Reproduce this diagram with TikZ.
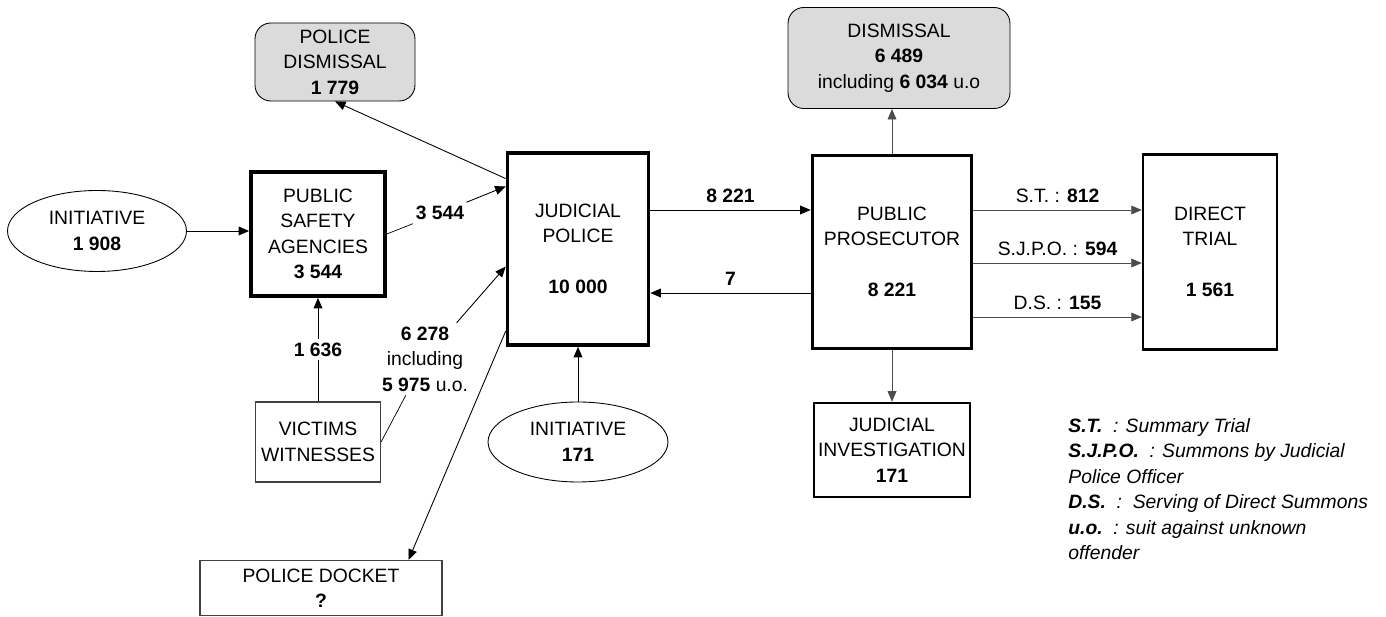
\documentclass[tikz,border=0pt]{standalone}
\usepackage{fontspec}
\setmainfont{Liberation Sans}
\usetikzlibrary{calc,shapes.geometric,arrows.meta}

\begin{document}
\begin{tikzpicture}[
    x=0.02cm, y=-0.02cm,
    every node/.style={font=\fontsize{11}{14.5}\selectfont, align=center, inner sep=0pt},
    thickbox/.style={draw, rectangle, line width=2.1pt},
    midbox/.style={draw, rectangle, line width=1.4pt},
    thinbox/.style={draw=black!75, rectangle, line width=0.7pt},
    dismissbox/.style={draw, rounded corners=9pt, fill=black!14, line width=0.5pt},
    source/.style={draw, ellipse, line width=0.5pt},
    flow/.style={-{Triangle[length=6pt,width=5pt]}, line width=0.5pt},
    count/.style={fill=white, inner sep=2pt}
  ]
    \useasboundingbox (0,0) rectangle (1386,617);

    % boxes
    \node[dismissbox, minimum width=3.2cm,  minimum height=1.56cm] (poldis) at (335,62)  {POLICE\\DISMISSAL\\\textbf{1 779}};
    \node[dismissbox, minimum width=4.44cm, minimum height=2.02cm] (dis)    at (899,58)  {DISMISSAL\\\textbf{6 489}\\including \textbf{6 034} u.o};
    \node[source,     minimum width=3.58cm, minimum height=1.62cm] (init1)  at (97,231)  {INITIATIVE\\\textbf{1 908}};
    \node[thickbox,   minimum width=2.68cm, minimum height=2.48cm] (psa)    at (318,234) {PUBLIC\\SAFETY\\AGENCIES\\\textbf{3 544}};
    \node[thinbox,    minimum width=2.5cm,  minimum height=1.6cm]  (vict)   at (318,442) {VICTIMS\\WITNESSES};
    \node[thinbox,    minimum width=4.84cm, minimum height=1.1cm]  (docket) at (321,588) {POLICE DOCKET\\\textbf{?}};
    \node[thickbox,   minimum width=2.82cm, minimum height=3.84cm] (jp)     at (578,249) {JUDICIAL\\POLICE\\[14.5pt]\textbf{10 000}};
    \node[source,     minimum width=3.6cm,  minimum height=1.6cm]  (init2)  at (578,442) {INITIATIVE\\\textbf{171}};
    \node[thickbox,   minimum width=3.18cm, minimum height=3.86cm] (pp)     at (892,252) {PUBLIC\\PROSECUTOR\\[14.5pt]\textbf{8 221}};
    \node[midbox,     minimum width=3.12cm, minimum height=1.88cm] (ji)     at (892,450) {JUDICIAL\\INVESTIGATION\\\textbf{171}};
    \node[midbox,     minimum width=2.68cm, minimum height=3.9cm]  (dt)     at (1210,252) {DIRECT\\TRIAL\\[14.5pt]\textbf{1 561}};

    % flows into and out of the judicial police
    \coordinate (jpA) at ($(jp.north west)!0.14!(jp.south west)$);
    \coordinate (jpB) at ($(jp.north west)!0.18!(jp.south west)$);
    \coordinate (jpC) at ($(jp.north west)!0.59!(jp.south west)$);
    \coordinate (jpD) at ($(jp.north west)!0.92!(jp.south west)$);
    \coordinate (dockIn) at ($(docket.north west)!0.86!(docket.north east)$);

    \node[count] (n3544) at (440,213) {\textbf{3 544}};
    \node[count] (n6278) at (425,359) {\textbf{6 278}\\including\\\textbf{5 975} u.o.};

    \draw[flow] (init1.east) -- (init1.east -| psa.west);
    \draw[flow] (vict) -- node[count] {\textbf{1 636}} (psa);
    \draw       (psa.east) -- (n3544);
    \draw[flow] (n3544) -- (jpB);
    \draw       (vict.east) -- (n6278);
    \draw[flow] (n6278) -- (jpC);
    \draw[flow] (jpA) -- (poldis.south);
    \draw[flow] (jpD) -- (dockIn);
    \draw[flow] (init2.north) -- (jp.south);

    % judicial police <-> public prosecutor
    \coordinate (jpOut) at ($(jp.east)+(0,-39)$);
    \coordinate (jpIn)  at ($(jp.east)+(0,44)$);
    \draw[flow] (jpOut) -- node[above, yshift=4pt] {\textbf{8 221}} (jpOut -| pp.west);
    \draw[flow] (jpIn -| pp.west) -- node[above, yshift=4pt] {\textbf{7}} (jpIn);

    % public prosecutor outputs
    \draw[flow, draw=black!70] (pp.north) -- (pp.north |- dis.south);
    \draw[flow, draw=black!70] (pp.south) -- (ji.north);
    \foreach \dy/\txt in {-42/{S.T. : \textbf{812}}, 11/{S.J.P.O. : \textbf{594}}, 65/{D.S. : \textbf{155}}} {
      \coordinate (ppOut) at ($(pp.east)+(0,\dy)$);
      \draw[flow, draw=black!70] (ppOut) -- node[above, yshift=4pt] {\txt} (ppOut -| dt.west);
    }

    % abbreviations
    \node[anchor=north west, align=left, font=\fontsize{11}{14.5}\selectfont\itshape] (legend) at (1068,418)
      {\textbf{S.T.}\ \ : Summary Trial\\
       \textbf{S.J.P.O.}\ \ : Summons by Judicial\\
       Police Officer\\
       \textbf{D.S.}\ \ :\ \ Serving of Direct Summons\\
       \textbf{u.o.}\ \ : suit against unknown\\
       offender};
\end{tikzpicture}
\end{document}
